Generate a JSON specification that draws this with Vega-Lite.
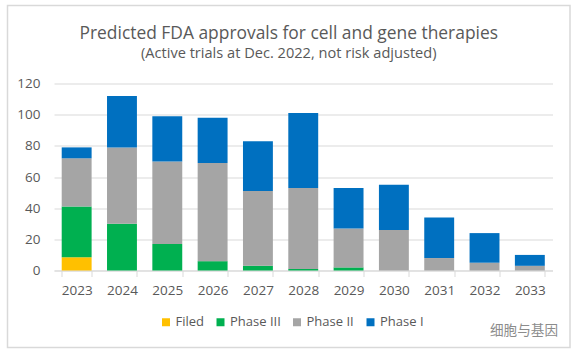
{"$schema":"https://vega.github.io/schema/vega-lite/v6.json","width":562.5,"height":342,"autosize":"none","padding":{"left":7.5,"top":5.5,"right":8,"bottom":6},"background":"white","title":{"text":"Predicted FDA approvals for cell and gene therapies","subtitle":"(Active trials at Dec. 2022, not risk adjusted)","frame":"group","anchor":"middle","dx":0,"offset":-55,"font":"Open Sans","fontSize":17.4,"fontWeight":"normal","color":"#595959","subtitleFont":"Open Sans","subtitleFontSize":14.6,"subtitleColor":"#595959","subtitlePadding":4},"config":{"view":{"stroke":"#D9D9D9","strokeWidth":1.5},"font":"Open Sans"},"data":{"values":[
{"year":"2023","phase":"Filed","rank":1,"count":8.5},{"year":"2023","phase":"Phase III","rank":2,"count":32.5},{"year":"2023","phase":"Phase II","rank":3,"count":31},{"year":"2023","phase":"Phase I","rank":4,"count":7},
{"year":"2024","phase":"Phase III","rank":2,"count":30},{"year":"2024","phase":"Phase II","rank":3,"count":49},{"year":"2024","phase":"Phase I","rank":4,"count":33},
{"year":"2025","phase":"Phase III","rank":2,"count":17},{"year":"2025","phase":"Phase II","rank":3,"count":53},{"year":"2025","phase":"Phase I","rank":4,"count":29},
{"year":"2026","phase":"Phase III","rank":2,"count":6},{"year":"2026","phase":"Phase II","rank":3,"count":63},{"year":"2026","phase":"Phase I","rank":4,"count":29},
{"year":"2027","phase":"Phase III","rank":2,"count":3},{"year":"2027","phase":"Phase II","rank":3,"count":48},{"year":"2027","phase":"Phase I","rank":4,"count":32},
{"year":"2028","phase":"Phase III","rank":2,"count":1},{"year":"2028","phase":"Phase II","rank":3,"count":52},{"year":"2028","phase":"Phase I","rank":4,"count":48},
{"year":"2029","phase":"Phase III","rank":2,"count":2},{"year":"2029","phase":"Phase II","rank":3,"count":25},{"year":"2029","phase":"Phase I","rank":4,"count":26},
{"year":"2030","phase":"Phase II","rank":3,"count":26},{"year":"2030","phase":"Phase I","rank":4,"count":29},
{"year":"2031","phase":"Phase II","rank":3,"count":8},{"year":"2031","phase":"Phase I","rank":4,"count":26},
{"year":"2032","phase":"Phase II","rank":3,"count":5},{"year":"2032","phase":"Phase I","rank":4,"count":19},
{"year":"2033","phase":"Phase II","rank":3,"count":3},{"year":"2033","phase":"Phase I","rank":4,"count":7}
]},"mark":{"type":"bar","cornerRadius":0},"encoding":{
"x":{"field":"year","type":"nominal","scale":{"range":[46.5,545],"paddingInner":0.34,"paddingOuter":0.17},"axis":{"orient":"bottom","offset":-77,"labelAngle":0,"labelFont":"Open Sans","labelFontSize":13.5,"labelColor":"#595959","labelPadding":7,"domainColor":"#D9D9D9","tickColor":"#D9D9D9","tickBand":"extent","tickSize":6,"grid":false,"title":"细胞与基因","titleFont":"Noto Sans CJK SC","titleFontSize":13.6,"titleFontWeight":"normal","titleColor":"#8C8C8C","titleX":516,"titleY":53}},
"y":{"field":"count","type":"quantitative","stack":"zero","scale":{"domain":[0,120],"range":[265,78],"nice":false},"axis":{"orient":"left","offset":-46.5,"values":[0,20,40,60,80,100,120],"labelFont":"Open Sans","labelFontSize":13.5,"labelColor":"#595959","labelPadding":14,"domain":false,"ticks":false,"grid":true,"gridColor":"#D9D9D9","gridWidth":1,"title":null}},
"color":{"field":"phase","type":"nominal","scale":{"domain":["Filed","Phase III","Phase II","Phase I"],"range":["#FFC000","#00B050","#A5A5A5","#0070C0"]},"legend":{"orient":"none","direction":"horizontal","legendX":152,"legendY":310,"title":null,"symbolType":"square","symbolSize":64,"symbolStrokeWidth":0,"labelFont":"Open Sans","labelFontSize":13,"labelColor":"#595959","columnPadding":9.5,"labelOffset":3}},
"order":{"field":"rank","type":"ordinal"}
}}
